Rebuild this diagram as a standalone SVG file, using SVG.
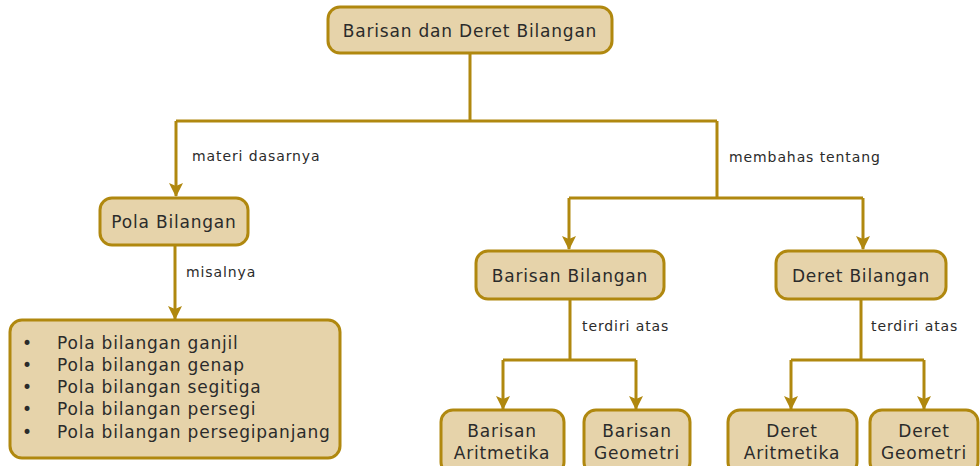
<svg xmlns="http://www.w3.org/2000/svg" width="980" height="466" viewBox="0 0 980 466">
<style>
.box{fill:#e6d3aa;stroke:#b0880f;stroke-width:3}
.t{font-family:"DejaVu Sans",Verdana,sans-serif;font-size:17px;letter-spacing:0.8px;fill:#2b2b2b}
.tc{text-anchor:middle}
.lbl{font-family:"DejaVu Sans",Verdana,sans-serif;font-size:14px;letter-spacing:0.9px;fill:#2b2b2b}
.ln{fill:none;stroke:#b0880f;stroke-width:3}
</style>
<defs>
<marker id="ah" markerWidth="14" markerHeight="16" refX="13" refY="8" orient="auto" markerUnits="userSpaceOnUse">
<path d="M0,1 L14,8 L0,15 L3,8 Z" fill="#b0880f"/>
</marker>
</defs>
<g id="connectors">
<path class="ln" d="M470,53 V121 M176,121 H717"/>
<path class="ln" d="M176,121 V196" marker-end="url(#ah)"/>
<path class="ln" d="M717,121 V198 M569,198 H863"/>
<path class="ln" d="M569,198 V249" marker-end="url(#ah)"/>
<path class="ln" d="M863,198 V249" marker-end="url(#ah)"/>
<path class="ln" d="M175,245 V319" marker-end="url(#ah)"/>
<path class="ln" d="M570,299 V360 M503,360 H636"/>
<path class="ln" d="M503,360 V409" marker-end="url(#ah)"/>
<path class="ln" d="M636,360 V409" marker-end="url(#ah)"/>
<path class="ln" d="M861,299 V360 M791,360 H924"/>
<path class="ln" d="M791,360 V409" marker-end="url(#ah)"/>
<path class="ln" d="M924,360 V409" marker-end="url(#ah)"/>
<text class="lbl" x="192" y="161">materi dasarnya</text>
<text class="lbl" x="729" y="162">membahas tentang</text>
<text class="lbl" x="186" y="277">misalnya</text>
<text class="lbl" x="582" y="331">terdiri atas</text>
<text class="lbl" x="871" y="331">terdiri atas</text>
</g>
<g id="n-root">
<rect class="box" x="328" y="7" width="284" height="46" rx="12"/>
<text class="t tc" x="470" y="37">Barisan dan Deret Bilangan</text>
</g>
<g id="n-pola">
<rect class="box" x="100" y="198" width="148" height="47" rx="12"/>
<text class="t tc" x="174" y="228">Pola Bilangan</text>
</g>
<g id="n-list">
<rect class="box" x="10" y="320" width="330" height="138" rx="12"/>
<text class="t" x="22" y="349">•</text><text class="t" x="57" y="349">Pola bilangan ganjil</text>
<text class="t" x="22" y="371">•</text><text class="t" x="57" y="371">Pola bilangan genap</text>
<text class="t" x="22" y="393">•</text><text class="t" x="57" y="393">Pola bilangan segitiga</text>
<text class="t" x="22" y="415">•</text><text class="t" x="57" y="415">Pola bilangan persegi</text>
<text class="t" x="22" y="438">•</text><text class="t" x="57" y="438">Pola bilangan persegipanjang</text>
</g>
<g id="n-barisan">
<rect class="box" x="476" y="251" width="188" height="48" rx="12"/>
<text class="t tc" x="570" y="282">Barisan Bilangan</text>
</g>
<g id="n-deret">
<rect class="box" x="776" y="251" width="170" height="48" rx="12"/>
<text class="t tc" x="861" y="282">Deret Bilangan</text>
</g>
<g id="n-bar-arit">
<rect class="box" x="441" y="410" width="123" height="64" rx="12"/>
<text class="t tc" x="502" y="437">Barisan</text>
<text class="t tc" x="502" y="459">Aritmetika</text>
</g>
<g id="n-bar-geo">
<rect class="box" x="584" y="410" width="106" height="64" rx="12"/>
<text class="t tc" x="637" y="437">Barisan</text>
<text class="t tc" x="637" y="459">Geometri</text>
</g>
<g id="n-der-arit">
<rect class="box" x="728" y="410" width="129" height="64" rx="12"/>
<text class="t tc" x="792" y="437">Deret</text>
<text class="t tc" x="792" y="459">Aritmetika</text>
</g>
<g id="n-der-geo">
<rect class="box" x="870" y="410" width="108" height="64" rx="12"/>
<text class="t tc" x="924" y="437">Deret</text>
<text class="t tc" x="924" y="459">Geometri</text>
</g>
</svg>
